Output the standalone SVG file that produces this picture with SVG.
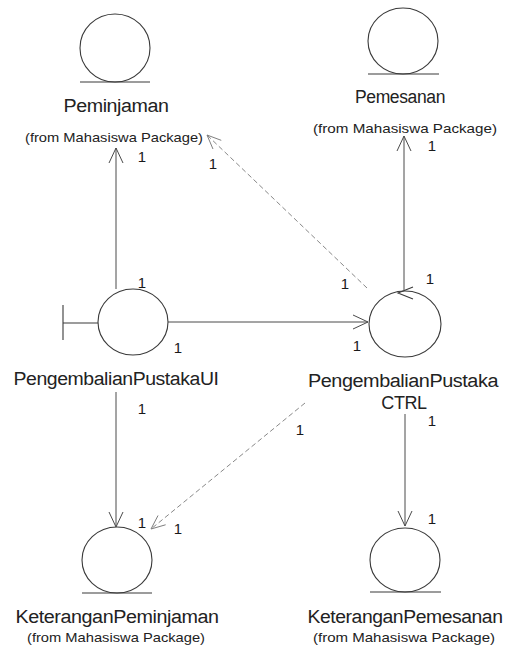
<svg xmlns="http://www.w3.org/2000/svg" width="506" height="659" viewBox="0 0 506 659">
  <style>
    .shape { fill: none; stroke: #3a3a3a; stroke-width: 1.1; }
    .link { fill: none; stroke: #4a4a4a; stroke-width: 1; }
    .dep { fill: none; stroke: #7a7a7a; stroke-width: 0.9; stroke-dasharray: 5 3; }
    .name { font-family: "Liberation Sans", Arial, sans-serif; font-size: 18px; fill: #222; text-anchor: middle; letter-spacing: -0.4px; }
    .pkg { font-family: "Liberation Sans", Arial, sans-serif; font-size: 13px; fill: #222; text-anchor: middle; }
    .mult { font-family: "Liberation Sans", Arial, sans-serif; font-size: 15px; fill: #1a1a1a; text-anchor: middle; }
  </style>
  <defs>
    <marker id="open" viewBox="-16 -8 18 16" refX="0" refY="0" markerWidth="18" markerHeight="16" markerUnits="userSpaceOnUse" orient="auto">
      <path d="M-15,-7 L0,0 L-15,7" fill="none" stroke="#4a4a4a" stroke-width="1"/>
    </marker>
    <marker id="openLight" viewBox="-16 -8 18 16" refX="0" refY="0" markerWidth="18" markerHeight="16" markerUnits="userSpaceOnUse" orient="auto">
      <path d="M-14,-6 L0,0 L-14,6" fill="none" stroke="#7a7a7a" stroke-width="0.9"/>
    </marker>
  </defs>
  <rect width="506" height="659" fill="#ffffff"/>

  <!-- entity: Peminjaman -->
  <g id="peminjaman">
    <ellipse class="shape" cx="115" cy="48" rx="35" ry="34"/>
    <line class="shape" x1="80" y1="82" x2="150" y2="82"/>
    <text class="name" x="116" y="112" textLength="105" lengthAdjust="spacingAndGlyphs">Peminjaman</text>
    <text class="pkg" x="114" y="142" textLength="178" lengthAdjust="spacingAndGlyphs">(from Mahasiswa Package)</text>
  </g>

  <!-- entity: Pemesanan -->
  <g id="pemesanan">
    <ellipse class="shape" cx="403" cy="41" rx="35" ry="33"/>
    <line class="shape" x1="368" y1="74" x2="439" y2="74"/>
    <text class="name" x="400" y="103" textLength="90" lengthAdjust="spacingAndGlyphs">Pemesanan</text>
    <text class="pkg" x="405" y="133" textLength="184" lengthAdjust="spacingAndGlyphs">(from Mahasiswa Package)</text>
  </g>

  <!-- boundary: PengembalianPustakaUI -->
  <g id="pengembalianPustakaUI">
    <ellipse class="shape" cx="133" cy="322" rx="35" ry="33"/>
    <line class="shape" x1="63" y1="305" x2="63" y2="340"/>
    <line class="shape" x1="63" y1="323" x2="98" y2="323"/>
    <text class="name" x="116" y="385" textLength="205" lengthAdjust="spacingAndGlyphs">PengembalianPustakaUI</text>
  </g>

  <!-- control: PengembalianPustakaCTRL -->
  <g id="pengembalianPustakaCTRL">
    <ellipse class="shape" cx="405" cy="324" rx="36" ry="33"/>
    <polyline class="shape" points="413,287 398,293 413,299"/>
    <text class="name" x="403" y="387" textLength="190" lengthAdjust="spacingAndGlyphs">PengembalianPustaka</text>
    <text class="name" x="404" y="409">CTRL</text>
  </g>

  <!-- entity: KeteranganPeminjaman -->
  <g id="keteranganPeminjaman">
    <ellipse class="shape" cx="117" cy="560" rx="35" ry="33"/>
    <line class="shape" x1="82" y1="593" x2="152" y2="593"/>
    <text class="name" x="117" y="623" textLength="203" lengthAdjust="spacingAndGlyphs">KeteranganPeminjaman</text>
    <text class="pkg" x="116" y="642" textLength="178" lengthAdjust="spacingAndGlyphs">(from Mahasiswa Package)</text>
  </g>

  <!-- entity: KeteranganPemesanan -->
  <g id="keteranganPemesanan">
    <ellipse class="shape" cx="405" cy="560" rx="35" ry="32"/>
    <line class="shape" x1="370" y1="592" x2="441" y2="592"/>
    <text class="name" x="405" y="623" textLength="195" lengthAdjust="spacingAndGlyphs">KeteranganPemesanan</text>
    <text class="pkg" x="404" y="642" textLength="182" lengthAdjust="spacingAndGlyphs">(from Mahasiswa Package)</text>
  </g>

  <!-- links and dependencies with multiplicities -->
  <g id="connectors">
    <line class="link" x1="116" y1="289" x2="116" y2="148" marker-end="url(#open)"/>
    <line class="link" x1="168" y1="322" x2="368" y2="322" marker-end="url(#open)"/>
    <line class="link" x1="404" y1="290" x2="404" y2="136" marker-end="url(#open)"/>
    <line class="dep" x1="367" y1="288" x2="207" y2="135" marker-end="url(#openLight)"/>
    <line class="link" x1="116" y1="392" x2="116" y2="527" marker-end="url(#open)"/>
    <line class="dep" x1="305" y1="403" x2="151" y2="529" marker-end="url(#openLight)"/>
    <line class="link" x1="405" y1="414" x2="405" y2="526" marker-end="url(#open)"/>

    <text class="mult" x="142" y="162">1</text>
    <text class="mult" x="213" y="169">1</text>
    <text class="mult" x="432" y="151">1</text>
    <text class="mult" x="142" y="288">1</text>
    <text class="mult" x="178" y="353">1</text>
    <text class="mult" x="345" y="289">1</text>
    <text class="mult" x="430" y="284">1</text>
    <text class="mult" x="357" y="351">1</text>
    <text class="mult" x="142" y="414">1</text>
    <text class="mult" x="300" y="435">1</text>
    <text class="mult" x="432" y="426">1</text>
    <text class="mult" x="142" y="528">1</text>
    <text class="mult" x="178" y="534">1</text>
    <text class="mult" x="432" y="524">1</text>
  </g>
</svg>
